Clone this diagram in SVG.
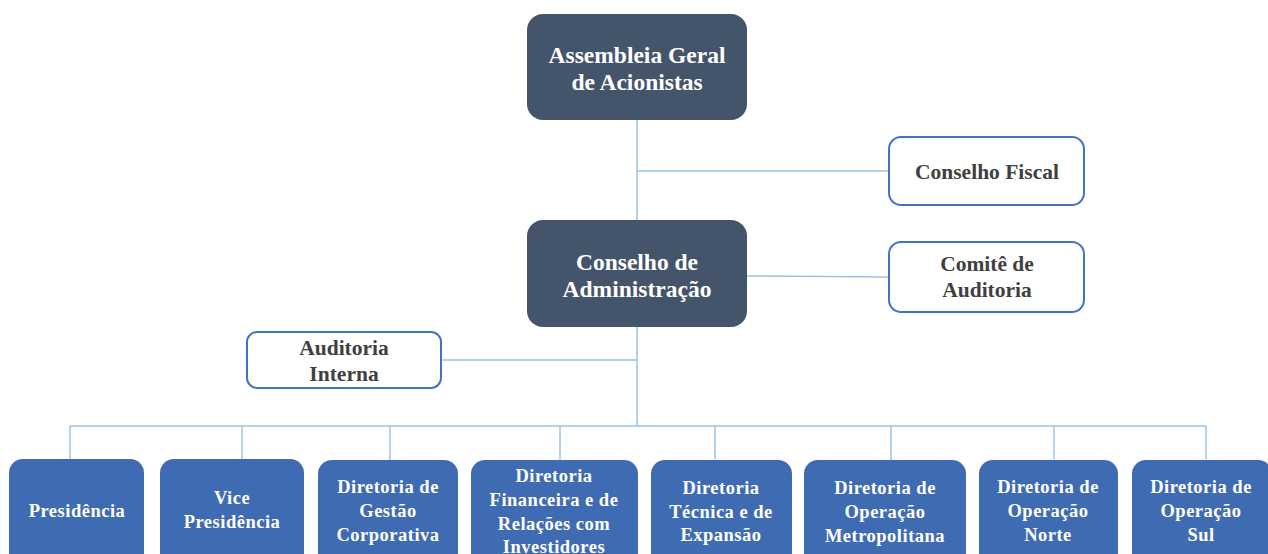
<svg xmlns="http://www.w3.org/2000/svg" width="1268" height="554" viewBox="0 0 1268 554">
<style>
.dark{fill:#44546A;}
.outl{fill:#fff;stroke:#4472C4;stroke-width:2;}
.blue{fill:#3F6BB3;}
.tw{font-family:'Liberation Serif','DejaVu Serif',serif;font-weight:700;fill:#fff;text-anchor:middle;}
.tg{font-family:'Liberation Serif','DejaVu Serif',serif;font-weight:700;fill:#404040;text-anchor:middle;font-size:21.5px;}
.tb{font-size:18.5px;letter-spacing:0.5px;}
.big{font-size:23.5px;}
.conn line{stroke:#9DC3E6;stroke-width:1.5;fill:none;}
</style>
<rect width="1268" height="554" fill="#fff"/>
<g class="conn">
<line x1="637" y1="120" x2="637" y2="220"/>
<line x1="637" y1="171" x2="889" y2="171"/>
<line x1="747" y1="276" x2="889" y2="277"/>
<line x1="637" y1="327" x2="637" y2="426"/>
<line x1="441" y1="360" x2="637" y2="360"/>
<line x1="70" y1="426" x2="1206" y2="426"/>
<line x1="70" y1="426" x2="70" y2="459"/>
<line x1="242" y1="426" x2="242" y2="459"/>
<line x1="390" y1="426" x2="390" y2="460"/>
<line x1="560" y1="426" x2="560" y2="460"/>
<line x1="715" y1="426" x2="715" y2="459"/>
<line x1="891" y1="426" x2="891" y2="460"/>
<line x1="1054" y1="426" x2="1054" y2="459"/>
<line x1="1206" y1="426" x2="1206" y2="459"/>
</g>
<g id="assembleia">
<rect class="dark" x="527" y="14" width="220" height="106" rx="16"/>
<text class="tw big" x="637" y="63">Assembleia Geral</text>
<text class="tw big" x="637" y="90">de Acionistas</text>
</g>
<g id="conselho-adm">
<rect class="dark" x="527" y="220" width="220" height="107" rx="16"/>
<text class="tw big" x="637" y="270">Conselho de</text>
<text class="tw big" x="637" y="297">Administração</text>
</g>
<g id="conselho-fiscal">
<rect class="outl" x="889" y="137" width="195" height="68" rx="12"/>
<text class="tg" x="987" y="179">Conselho Fiscal</text>
</g>
<g id="comite">
<rect class="outl" x="889" y="242" width="195" height="70" rx="12"/>
<text class="tg" x="987" y="271">Comitê de</text>
<text class="tg" x="987" y="297">Auditoria</text>
</g>
<g id="auditoria-interna">
<rect class="outl" x="247" y="332" width="194" height="56" rx="10"/>
<text class="tg" x="344" y="355">Auditoria</text>
<text class="tg" x="344" y="381">Interna</text>
</g>
<g id="presidencia">
<rect class="blue" x="9" y="459" width="135" height="110" rx="14"/>
<text class="tw tb" x="77" y="517">Presidência</text>
</g>
<g id="vice">
<rect class="blue" x="160" y="459" width="144" height="110" rx="14"/>
<text class="tw tb" x="232" y="504">Vice</text>
<text class="tw tb" x="232" y="528">Presidência</text>
</g>
<g id="gestao">
<rect class="blue" x="318" y="460" width="140" height="110" rx="14"/>
<text class="tw tb" x="388" y="493">Diretoria de</text>
<text class="tw tb" x="388" y="517">Gestão</text>
<text class="tw tb" x="388" y="541">Corporativa</text>
</g>
<g id="financeira">
<rect class="blue" x="471" y="460" width="167" height="110" rx="14"/>
<text class="tw tb" x="554" y="482">Diretoria</text>
<text class="tw tb" x="554" y="506">Financeira e de</text>
<text class="tw tb" x="554" y="530">Relações com</text>
<text class="tw tb" x="554" y="553">Investidores</text>
</g>
<g id="tecnica">
<rect class="blue" x="651" y="460" width="141" height="110" rx="14"/>
<text class="tw tb" x="721" y="494">Diretoria</text>
<text class="tw tb" x="721" y="518">Técnica e de</text>
<text class="tw tb" x="721" y="541">Expansão</text>
</g>
<g id="metropolitana">
<rect class="blue" x="804" y="460" width="162" height="110" rx="14"/>
<text class="tw tb" x="885" y="494">Diretoria de</text>
<text class="tw tb" x="885" y="518">Operação</text>
<text class="tw tb" x="885" y="542">Metropolitana</text>
</g>
<g id="norte">
<rect class="blue" x="979" y="460" width="139" height="110" rx="14"/>
<text class="tw tb" x="1048" y="493">Diretoria de</text>
<text class="tw tb" x="1048" y="517">Operação</text>
<text class="tw tb" x="1048" y="541">Norte</text>
</g>
<g id="sul">
<rect class="blue" x="1132" y="460" width="140" height="110" rx="14"/>
<text class="tw tb" x="1201" y="493">Diretoria de</text>
<text class="tw tb" x="1201" y="517">Operação</text>
<text class="tw tb" x="1201" y="541">Sul</text>
</g>
</svg>
